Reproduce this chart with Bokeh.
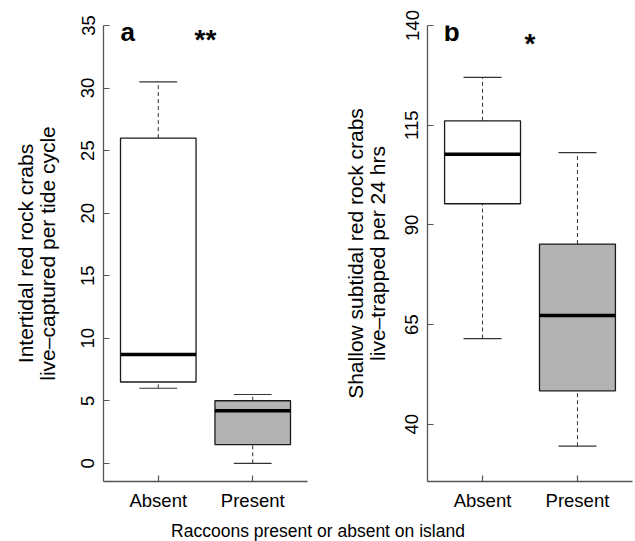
import numpy as np
from bokeh.plotting import figure
from bokeh.layouts import row, column
from bokeh.models import Range1d, FixedTicker, Label
from bokeh.embed import file_html
from bokeh.resources import INLINE

# ---- data ----
categories = ["Absent", "Present"]
positions = [1, 2]

# panel a: intertidal crabs live-captured per tide cycle
a_lower = [6.0, 0.0]
a_q1 = [6.5, 1.5]
a_median = [8.7, 4.2]
a_q3 = [26.0, 5.0]
a_upper = [30.5, 5.5]
a_ticks = [0, 5, 10, 15, 20, 25, 30, 35]

# panel b: shallow subtidal crabs live-trapped per 24 hrs
b_lower = [61.5, 34.5]
b_q1 = [95.3, 48.4]
b_median = [107.7, 67.3]
b_q3 = [116.1, 85.2]
b_upper = [127.0, 108.1]
b_ticks = [40, 65, 90, 115, 140]

box_fills = ["white", "#b3b3b3"]

FONT = "Liberation Sans"
FS = "18.5px"
ROW_H = 514


def panel(width, left, right, yr, ticks, lower, q1, med, q3, upper, ylabel, letter, stars,
          letter_x, letter_y, star_y, label_standoff):
    p = figure(width=width, height=ROW_H, output_backend="svg", toolbar_location=None,
               x_range=Range1d(0.42, 2.58), y_range=Range1d(*yr), title=None,
               min_border_left=left, min_border_right=right,
               min_border_top=25, min_border_bottom=ROW_H - 25 - 456)
    p.outline_line_color = None
    p.xgrid.visible = False
    p.ygrid.visible = False
    p.background_fill_color = "white"
    p.border_fill_color = "white"

    xs = np.array(positions, dtype=float)
    # whiskers
    p.segment(x0=xs, y0=q3, x1=xs, y1=upper, line_color="#333333", line_width=1,
              line_dash="4 3")
    p.segment(x0=xs, y0=lower, x1=xs, y1=q1, line_color="#333333", line_width=1,
              line_dash="4 3")
    # caps
    p.segment(x0=xs - 0.2, y0=upper, x1=xs + 0.2, y1=upper, line_color="#333333", line_width=1.2)
    p.segment(x0=xs - 0.2, y0=lower, x1=xs + 0.2, y1=lower, line_color="#333333", line_width=1.2)
    # boxes
    p.vbar(x=xs, width=0.8, bottom=q1, top=q3, fill_color=box_fills,
           line_color="#1a1a1a", line_width=1.3)
    # medians
    p.segment(x0=xs - 0.4, y0=med, x1=xs + 0.4, y1=med, line_color="black", line_width=3.5)

    # axes
    for ax in (p.xaxis[0], p.yaxis[0]):
        ax.axis_line_color = "#555555"
        ax.axis_line_width = 1.3
        ax.major_tick_line_color = "#555555"
        ax.major_tick_line_width = 1.2
        ax.major_tick_in = 6
        ax.major_tick_out = 0
        ax.minor_tick_line_color = None
        ax.major_label_text_font = FONT
        ax.major_label_text_font_size = FS
        ax.major_label_text_color = "black"
        ax.axis_label_text_font = FONT
        ax.axis_label_text_font_size = "21px"
        ax.axis_label_text_line_height = 0.95
        ax.axis_label_text_font_style = "normal"
        ax.axis_label_text_color = "black"

    p.xaxis.ticker = FixedTicker(ticks=positions)
    p.xaxis.major_label_overrides = {pos: c for pos, c in zip(positions, categories)}
    p.xaxis.major_label_standoff = 8

    p.yaxis.ticker = FixedTicker(ticks=ticks)
    p.yaxis.major_label_orientation = "vertical"
    p.yaxis.major_label_standoff = 9
    p.yaxis.axis_label = ylabel
    p.yaxis.axis_label_standoff = label_standoff

    p.add_layout(Label(x=letter_x, y=letter_y, text=letter, text_font=FONT,
                       text_font_size="26px", text_font_style="bold", text_color="black",
                       text_baseline="alphabetic", text_align="left"))
    p.add_layout(Label(x=1.5, y=star_y, text=stars, text_font=FONT,
                       text_font_size="28px", text_font_style="bold", text_color="black",
                       text_baseline="alphabetic", text_align="center"))
    return p


pa = panel(320, 103, 13, (-1.456, 35.0), a_ticks, a_lower, a_q1, a_median, a_q3, a_upper,
           "Intertidal red rock crabs\nlive\u2013captured per tide cycle", "a", "**",
           0.6, 34.45, 33.85, 20)
pb = panel(315, 107, 3, (25.65, 140.0), b_ticks, b_lower, b_q1, b_median, b_q3, b_upper,
           "Shallow subtidal red rock crabs\nlive\u2013trapped per 24 hrs", "b", "*",
           0.59, 138.25, 135.5, 14)

TITLE_H = 541 - ROW_H
pt = figure(width=635, height=TITLE_H, output_backend="svg", toolbar_location=None,
            x_range=Range1d(0, 635), y_range=Range1d(0, TITLE_H), title=None,
            min_border_left=0, min_border_right=0, min_border_top=0, min_border_bottom=0)
pt.axis.visible = False
pt.grid.visible = False
pt.outline_line_color = None
pt.add_layout(Label(x=317.5, y=TITLE_H - 6, text="Raccoons present or absent on island",
                    text_font=FONT, text_font_size="17.5px", text_align="center",
                    text_baseline="top", text_color="black"))

layout = column(row(pa, pb), pt)

with open("out.html", "w") as f:
    f.write(file_html(layout, INLINE))
